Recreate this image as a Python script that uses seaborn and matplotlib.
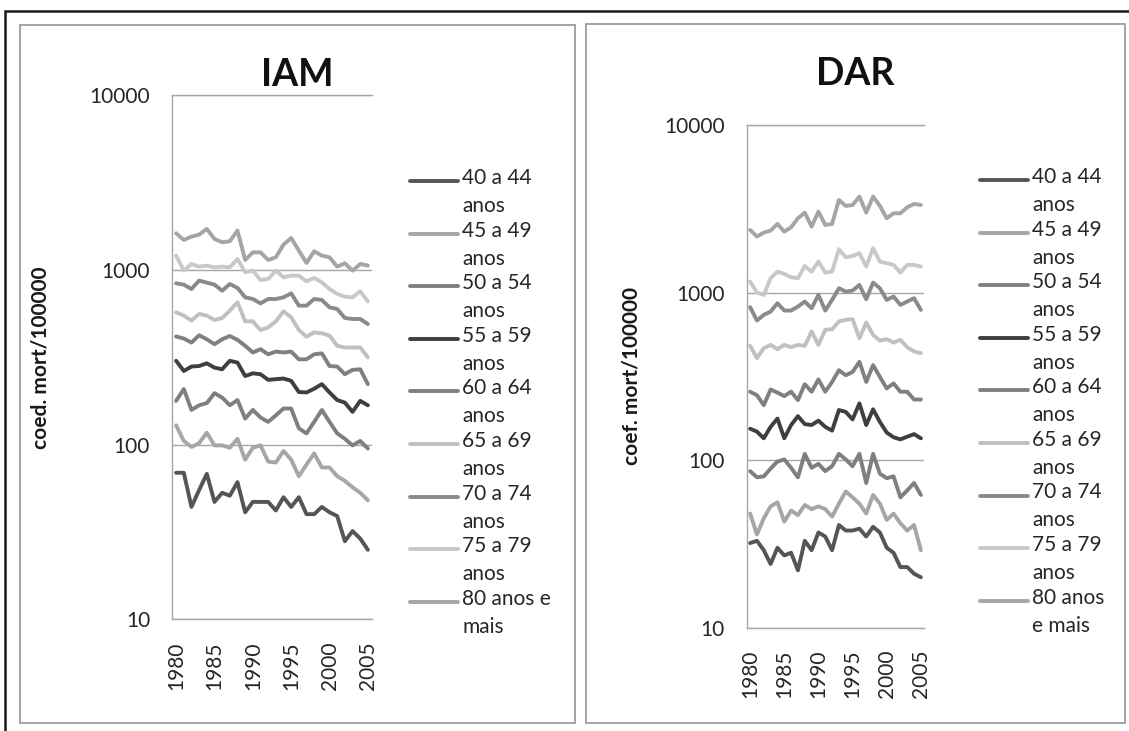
import numpy as np
import pandas as pd
import matplotlib
matplotlib.use("Agg")
import matplotlib.pyplot as plt
import seaborn as sns
from matplotlib.patches import Rectangle
from matplotlib.lines import Line2D
from matplotlib.legend_handler import HandlerLine2D
from matplotlib.ticker import FixedLocator, FixedFormatter, NullLocator

# ---------------- data ----------------
years = list(range(1980, 2006))
groups = ["40 a 44", "45 a 49", "50 a 54", "55 a 59", "60 a 64",
          "65 a 69", "70 a 74", "75 a 79", "80 anos e mais"]
legend_labels_iam = ["40 a 44\nanos", "45 a 49\nanos", "50 a 54\nanos", "55 a 59\nanos",
                     "60 a 64\nanos", "65 a 69\nanos", "70 a 74\nanos", "75 a 79\nanos",
                     "80 anos e\nmais"]
legend_labels_dar = ["40 a 44\nanos", "45 a 49\nanos", "50 a 54\nanos", "55 a 59\nanos",
                     "60 a 64\nanos", "65 a 69\nanos", "70 a 74\nanos", "75 a 79\nanos",
                     "80 anos\ne mais"]
xtick_years = [1980, 1985, 1990, 1995, 2000, 2005]
ytick_values = [10, 100, 1000, 10000]
ytick_labels = ["10", "100", "1000", "10000"]

# IAM
iam_40 = [69, 69, 44, 55, 68, 47, 53, 51, 61, 41, 47, 47, 47, 42, 50, 44, 50, 40, 40, 44, 41, 39, 28, 32, 29, 25]
iam_45 = [129, 105, 97, 102, 117, 99, 99, 96, 108, 82, 96, 99, 80, 79, 92, 82, 66, 77, 89, 74, 74, 66, 62, 57, 53, 48]
iam_50 = [178, 208, 158, 168, 173, 197, 186, 168, 180, 141, 158, 143, 135, 147, 161, 161, 124, 116, 135, 158, 135, 116, 108, 99, 105, 95]
iam_55 = [302, 264, 280, 282, 292, 276, 270, 302, 295, 247, 256, 253, 235, 237, 239, 232, 200, 199, 209, 222, 199, 180, 174, 154, 178, 168]
iam_60 = [416, 405, 384, 423, 401, 376, 401, 419, 398, 368, 337, 352, 329, 341, 337, 341, 308, 308, 329, 333, 282, 280, 253, 268, 270, 222]
iam_65 = [572, 548, 513, 560, 548, 517, 531, 585, 653, 508, 508, 453, 469, 508, 580, 535, 453, 415, 439, 434, 421, 368, 360, 360, 360, 316]
iam_70 = [839, 824, 778, 869, 846, 824, 761, 831, 789, 697, 682, 644, 682, 682, 697, 735, 625, 625, 682, 673, 611, 598, 531, 524, 524, 490]
iam_75 = [1208, 991, 1082, 1045, 1059, 1036, 1045, 1036, 1156, 970, 991, 876, 888, 991, 908, 928, 928, 861, 900, 850, 778, 729, 703, 697, 755, 661]
iam_80 = [1622, 1486, 1552, 1594, 1718, 1506, 1441, 1460, 1680, 1141, 1262, 1262, 1141, 1182, 1397, 1525, 1291, 1097, 1279, 1208, 1182, 1045, 1092, 991, 1082, 1059]

# DAR
dar_40 = [32, 33, 29, 24, 30, 27, 28, 22, 33, 29, 37, 35, 29, 41, 38, 38, 39, 35, 40, 37, 30, 28, 23, 23, 21, 20]
dar_45 = [48, 36, 45, 53, 56, 43, 50, 47, 54, 51, 53, 51, 46, 55, 65, 60, 55, 48, 62, 55, 44, 48, 42, 38, 41, 29]
dar_50 = [86, 79, 80, 89, 98, 101, 90, 79, 109, 90, 95, 86, 92, 109, 101, 92, 109, 73, 109, 83, 78, 80, 60, 66, 73, 62]
dar_55 = [154, 148, 135, 158, 177, 135, 162, 183, 164, 162, 172, 158, 150, 199, 194, 175, 218, 162, 201, 169, 146, 137, 133, 138, 143, 135]
dar_60 = [256, 244, 213, 264, 253, 241, 256, 228, 284, 256, 303, 256, 293, 344, 321, 336, 386, 293, 369, 314, 268, 287, 256, 256, 230, 230]
dar_65 = [481, 406, 466, 487, 459, 487, 472, 487, 481, 586, 487, 599, 604, 672, 688, 694, 534, 662, 559, 517, 527, 503, 522, 472, 445, 435]
dar_70 = [818, 681, 736, 770, 864, 781, 781, 825, 884, 806, 968, 781, 904, 1061, 1014, 1028, 1111, 912, 1147, 1061, 904, 947, 844, 884, 925, 788]
dar_75 = [1163, 1000, 968, 1218, 1334, 1292, 1234, 1218, 1442, 1334, 1530, 1316, 1334, 1813, 1624, 1654, 1717, 1429, 1838, 1530, 1496, 1462, 1316, 1462, 1462, 1429]
dar_80 = [2365, 2158, 2280, 2343, 2568, 2311, 2453, 2776, 3000, 2476, 3042, 2533, 2568, 3570, 3288, 3334, 3737, 3000, 3737, 3288, 2776, 2973, 2973, 3228, 3380, 3334]

iam_series = [iam_40, iam_45, iam_50, iam_55, iam_60, iam_65, iam_70, iam_75, iam_80]
dar_series = [dar_40, dar_45, dar_50, dar_55, dar_60, dar_65, dar_70, dar_75, dar_80]

colors = ["#555555", "#a6a6a6", "#7f7f7f", "#3f3f3f", "#808080",
          "#c0c0c0", "#8a8a8a", "#c8c8c8", "#a5a5a5"]

# ---------------- styling ----------------
sns.set_theme(style="white")
plt.rcParams['font.family'] = ['Lato', 'DejaVu Sans']

W, H = 1129, 731
fig = plt.figure(figsize=(W / 100, H / 100), dpi=100)
fig.patch.set_facecolor("white")


def fx(px):
    return px / W


def fy(py):
    return 1 - py / H


TXT = "#262626"
GRID = "#a6a6a6"
FS = 15
LINESPACING = 1.5


class FirstLineHandler(HandlerLine2D):
    def __init__(self, shift, **kw):
        super().__init__(**kw)
        self.shift = shift

    def create_artists(self, legend, orig_handle, xdescent, ydescent,
                       width, height, fontsize, trans):
        arts = super().create_artists(legend, orig_handle, xdescent, ydescent,
                                      width, height, fontsize, trans)
        for a in arts:
            a.set_ydata(np.asarray(a.get_ydata(), dtype=float) + self.shift)
        return arts


def panel(rect_px, series, leg_labels, ylabel, ylabel_x, title, title_xy,
          leg_xy, box_px):
    x0, y_top, x1, y_bot = rect_px
    ax = fig.add_axes([fx(x0), fy(y_bot), (x1 - x0) / W, (y_bot - y_top) / H])
    df = pd.DataFrame({
        "ano": np.tile(years, len(groups)),
        "coef": np.concatenate([np.asarray(s, float) for s in series]),
        "faixa": np.repeat(groups, len(years)),
    })
    sns.lineplot(data=df, x="ano", y="coef", hue="faixa", hue_order=groups,
                 palette=colors, linewidth=2.8, legend=False, errorbar=None,
                 ax=ax)
    ax.set_yscale("log")
    ax.set_ylim(10, 10000)
    ax.set_xlim(years[0] - 0.5, years[-1] + 0.5)
    ax.yaxis.set_major_locator(FixedLocator(ytick_values))
    ax.yaxis.set_major_formatter(FixedFormatter(ytick_labels))
    ax.yaxis.set_minor_locator(NullLocator())
    ax.set_xticks(xtick_years)
    ax.set_xticklabels([str(y) for y in xtick_years], rotation=90)
    ax.tick_params(axis="y", length=0, pad=16, labelsize=FS, labelcolor=TXT)
    ax.tick_params(axis="x", length=0, pad=16, labelsize=FS, labelcolor=TXT)
    ax.set_xlabel("")
    ax.set_ylabel(ylabel, fontsize=FS, fontweight="bold", color="#1a1a1a",
                  va="center")
    ax.yaxis.set_label_coords(ylabel_x, 0.5)
    ax.yaxis.grid(True, color=GRID, lw=1.0)
    ax.xaxis.grid(False)
    for s in ["left", "bottom", "top"]:
        ax.spines[s].set_color(GRID)
        ax.spines[s].set_linewidth(1.0)
    ax.spines["right"].set_visible(False)
    ax.set_facecolor("white")

    handles = ax.get_lines()[:len(groups)]
    shift = 0.5 * LINESPACING * 0.74 * FS
    leg = ax.legend(handles, leg_labels, loc="upper left",
                    bbox_to_anchor=(fx(leg_xy[0]), fy(leg_xy[1])),
                    bbox_transform=fig.transFigure, frameon=False,
                    fontsize=FS, handlelength=2.3, handletextpad=0.2,
                    labelspacing=0.22, borderpad=0, borderaxespad=0,
                    handler_map={Line2D: FirstLineHandler(shift)})
    for t in leg.get_texts():
        t.set_linespacing(LINESPACING)
        t.set_color(TXT)

    fig.text(fx(title_xy[0]), fy(title_xy[1]), title, ha="center",
             va="baseline", fontsize=27, fontweight="bold", color="#111111")

    bx0, by0, bx1, by1 = box_px
    fig.add_artist(Rectangle((fx(bx0), fy(by1)), (bx1 - bx0) / W, (by1 - by0) / H,
                             transform=fig.transFigure, fill=False,
                             ec="#9c9c9c", lw=1.3))
    return ax


panel((172.3, 95.3, 371.7, 619.3), iam_series, legend_labels_iam,
      "coed. mort/100000", (41 - 172.3) / 199.4, "IAM", (297.5, 86),
      (410, 168), (20, 25, 575, 723))
panel((746.7, 125.0, 924.3, 627.7), dar_series, legend_labels_dar,
      "coef. mort/100000", (631 - 746.7) / 177.6, "DAR", (855.5, 85),
      (980, 167), (586, 24, 1125, 723))

# outer frame (top and left edges visible)
fig.add_artist(Rectangle((fx(5), fy(760)), 1.2, (760 - 11) / H,
                         transform=fig.transFigure, fill=False,
                         ec="#1a1a1a", lw=1.8))

fig.savefig("out.png", dpi=100)
